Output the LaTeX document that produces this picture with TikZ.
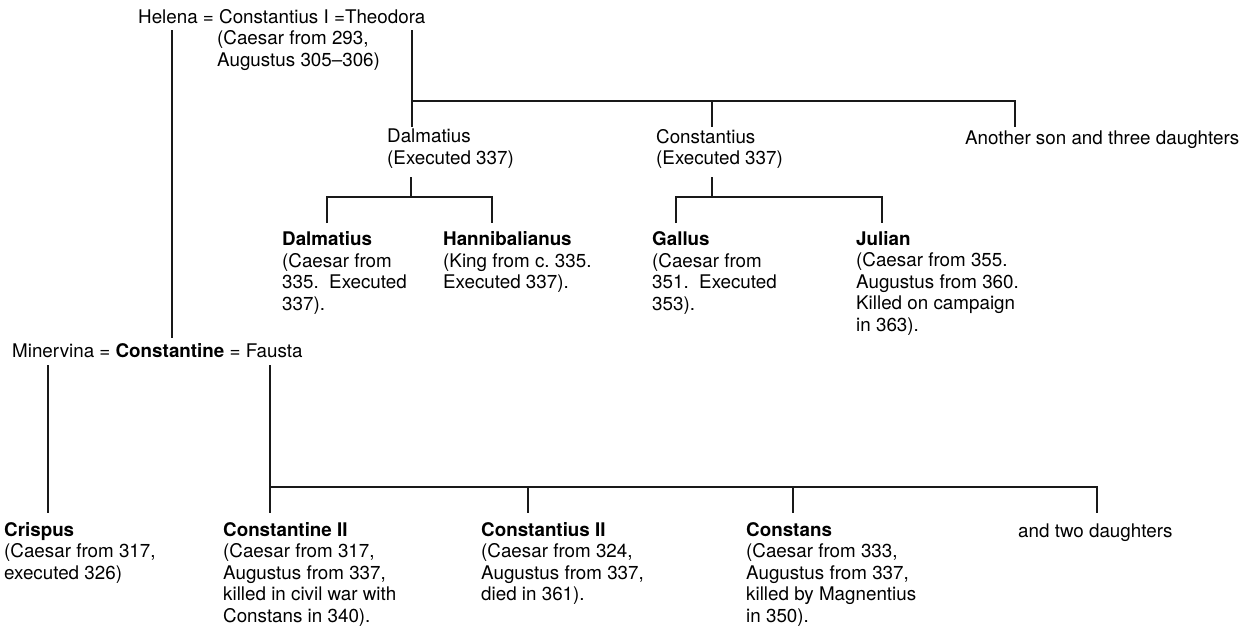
\documentclass[tikz,border=0pt]{standalone}
\usepackage{fontspec}
\setmainfont{TeX Gyre Heros}
\newcommand\famfont{\fontsize{18.8}{21.6}\selectfont\frenchspacing}
\begin{document}
\begin{tikzpicture}[x=1pt,y=-1pt,
  lbl/.style={anchor=north west, inner sep=0pt, align=left, font=\famfont, execute at begin node=\strut},
  link/.style={draw=black!90, line width=1.1pt}]
\useasboundingbox (0,0) rectangle (1243,625);
% generation 1
\node[lbl] (cI) at (138,7.9) {Helena = Constantius I =Theodora};
\node[lbl] (cIsub) at (217,30.4) {(Caesar from 293,\\Augustus 305--306)};
% generation 2
\node[lbl] (dalP) at (387,128.9) {Dalmatius\\(Executed 337)};
\node[lbl] (conP) at (656,128.9) {Constantius\\(Executed 337)};
\node[lbl] (other) at (965,128.9) {Another son and three daughters};
% generation 3
\node[lbl] (dalC) at (282,231.4) {\textbf{Dalmatius}\\(Caesar from\\335.\ \ Executed\\337).};
\node[lbl] (hann) at (443,231.4) {\textbf{Hannibalianus}\\(King from c. 335.\\Executed 337).};
\node[lbl] (gallus) at (652,231.4) {\textbf{Gallus}\\(Caesar from\\351.\ \ Executed\\353).};
\node[lbl] (julian) at (856,230.9) {\textbf{Julian}\\(Caesar from 355.\\Augustus from 360.\\Killed on campaign\\in 363).};
% Constantine
\node[lbl] (const) at (12,341.9) {Minervina = \textbf{Constantine} = Fausta};
% children
\node[lbl] (crispus) at (4,521.9) {\textbf{Crispus}\\(Caesar from 317,\\executed 326)};
\node[lbl] (cII) at (223,521.9) {\textbf{Constantine II}\\(Caesar from 317,\\Augustus from 337,\\killed in civil war with\\Constans in 340).};
\node[lbl] (ctII) at (481,521.9) {\textbf{Constantius II}\\(Caesar from 324,\\Augustus from 337,\\died in 361).};
\node[lbl] (cons) at (746,521.9) {\textbf{Constans}\\(Caesar from 333,\\Augustus from 337,\\killed by Magnentius\\in 350).};
\node[lbl] (daus) at (1018,521.9) {and two daughters};
% coordinates
\coordinate (helena) at (172,30);
\coordinate (constTop) at (172,338);
\coordinate (theo) at (412,30);
\coordinate (j1L) at (412,101);
\coordinate (j1M) at (712,101);
\coordinate (j1R) at (1015,101);
\coordinate (dalPtop) at (412,127);
\coordinate (conPtop) at (712,127);
\coordinate (othertop) at (1015,127);
\coordinate (dalPbot) at (411,177);
\coordinate (j2) at (411,197);
\coordinate (j2L) at (327,197);
\coordinate (j2R) at (492,197);
\coordinate (dalCtop) at (327,223);
\coordinate (hanntop) at (492,223);
\coordinate (conPbot) at (712,177);
\coordinate (j3) at (712,197);
\coordinate (j3L) at (676,197);
\coordinate (j3R) at (882,197);
\coordinate (gallustop) at (676,223);
\coordinate (juliantop) at (882,223);
\coordinate (minerv) at (48,365);
\coordinate (crispustop) at (48,513);
\coordinate (fausta) at (270,365);
\coordinate (j4L) at (270,487);
\coordinate (j4A) at (528,487);
\coordinate (j4B) at (793,487);
\coordinate (j4R) at (1097,487);
\coordinate (cIItop) at (270,513);
\coordinate (ctIItop) at (528,513);
\coordinate (constop) at (793,513);
\coordinate (daustop) at (1097,513);
% connectors
\draw[link] (helena) -- (constTop);
\draw[link] (theo) -- (j1L) -- (dalPtop);
\draw[link] (j1L) -- (j1R) -- (othertop);
\draw[link] (j1M) -- (conPtop);
\draw[link] (dalPbot) -- (j2);
\draw[link] (dalCtop) -- (j2L) -- (j2R) -- (hanntop);
\draw[link] (conPbot) -- (j3);
\draw[link] (gallustop) -- (j3L) -- (j3R) -- (juliantop);
\draw[link] (minerv) -- (crispustop);
\draw[link] (fausta) -- (cIItop);
\draw[link] (j4L) -- (j4R) -- (daustop);
\draw[link] (j4A) -- (ctIItop);
\draw[link] (j4B) -- (constop);
\end{tikzpicture}
\end{document}
